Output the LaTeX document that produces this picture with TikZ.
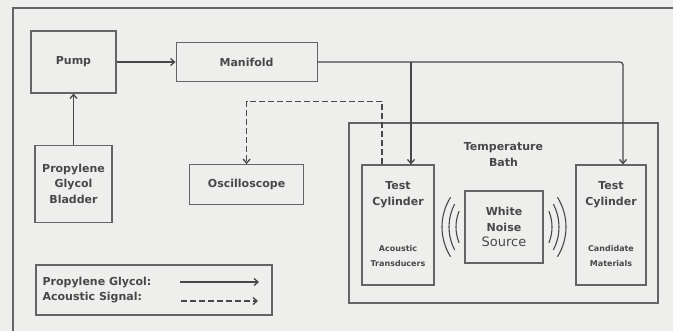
\documentclass[tikz,border=0pt]{standalone}
\usepackage{fontspec}
\setmainfont{DejaVu Sans}
\usetikzlibrary{positioning, arrows.meta}
\definecolor{inkgray}{RGB}{72,72,72}
\definecolor{papergray}{RGB}{238,238,236}
\definecolor{boxgray}{RGB}{100,100,100}

\begin{document}
\begin{tikzpicture}[x=1pt, y=-1pt,
    every node/.style={text=inkgray},
    unit/.style={rectangle, draw=boxgray, line width=1.1pt, align=center,
                 font=\fontsize{11}{15.5}\selectfont\bfseries},
    caption/.style={align=center, inner sep=0pt,
                    font=\fontsize{11}{15.5}\selectfont\bfseries},
    note/.style={align=center, inner sep=0pt,
                 font=\fontsize{8}{15}\selectfont\bfseries},
    flow/.style={-{Straight Barb[length=4pt,width=7pt]}, inkgray, line width=1.3pt},
    signal/.style={flow, dash pattern=on 6pt off 3pt},
    wave/.style={inkgray, line width=1.1pt}]
        \fill[papergray] (0,0) rectangle (673,331);
        \useasboundingbox (0,0) rectangle (673,331);
        \draw[boxgray, line width=1.1pt] (13,331) -- (13,8) -- (673,8);

        % supply side
        \node[unit, minimum width=85pt, minimum height=62pt] (pump) at (73.5,62) {Pump};
        \node[unit, minimum width=141pt, minimum height=39pt,
              right=59pt of pump] (manifold) {Manifold};
        \node[unit, minimum width=77pt, minimum height=77pt,
              below=51pt of pump] (bladder) {Propylene\\Glycol\\Bladder};
        \node[unit, minimum width=114pt, minimum height=40pt,
              below=82pt of manifold] (scope) {Oscilloscope};

        % bath with the two cylinders
        \node[unit, minimum width=309pt, minimum height=180pt] (bath) at (503.5,213) {};
        \node[caption, below=20pt of bath.north] (bathlabel) {Temperature\\Bath};
        \node[unit, minimum width=72pt, minimum height=120pt] (cylA) at (398,225) {};
        \node[caption, below=17pt of cylA.north] (cylAtitle) {Test\\Cylinder};
        \node[note, above=19pt of cylA.south] (cylAnote) {Acoustic\\Transducers};
        \node[unit, minimum width=70pt, minimum height=120pt] (cylB) at (611,225) {};
        \node[caption, below=17pt of cylB.north] (cylBtitle) {Test\\Cylinder};
        \node[note, above=19pt of cylB.south] (cylBnote) {Candidate\\Materials};
        \node[unit, minimum width=78pt, minimum height=72pt] (noise) at (504,227)
              {White\\Noise\\{\fontsize{13}{15.5}\selectfont\mdseries Source}};

        % sound waves
        \foreach \r/\a in {42/22, 49/28, 56/32} {
          \draw[wave] ([xshift=6pt]noise.center) ++(-\a:\r pt) arc[start angle=-\a, end angle=\a, radius=\r pt];
          \draw[wave] ([xshift=-6pt]noise.center) ++(180-\a:\r pt) arc[start angle=180-\a, end angle=180+\a, radius=\r pt];
        }

        % connections
        \coordinate (tapA) at ([xshift=13pt]cylA.north);
        \coordinate (tapB) at ([xshift=12pt]cylB.north);
        \coordinate (probe) at ([xshift=-16pt]cylA.north);
        \draw[flow] (bladder) -- (pump);
        \draw[flow] (pump) -- (manifold);
        \draw[flow, rounded corners=3pt] (manifold.east) -| (tapB);
        \draw[flow] (manifold.east -| tapA) -- (tapA);
        \draw[signal] (probe) -- ([yshift=63pt]probe) -| (scope.north);

        % legend
        \node[unit, minimum width=236pt, minimum height=50pt] (legend) at (154,290) {};
        \node[caption, align=left, anchor=west, right=7pt of legend.west] (legendtext)
              {Propylene Glycol:\\Acoustic Signal:};
        \coordinate (pgtail) at (180,282);
        \coordinate (pghead) at (259,282);
        \coordinate (astail) at (181,301);
        \coordinate (ashead) at (258,301);
        \draw[flow] (pgtail) -- (pghead);
        \draw[signal] (astail) -- (ashead);
\end{tikzpicture}
\end{document}
